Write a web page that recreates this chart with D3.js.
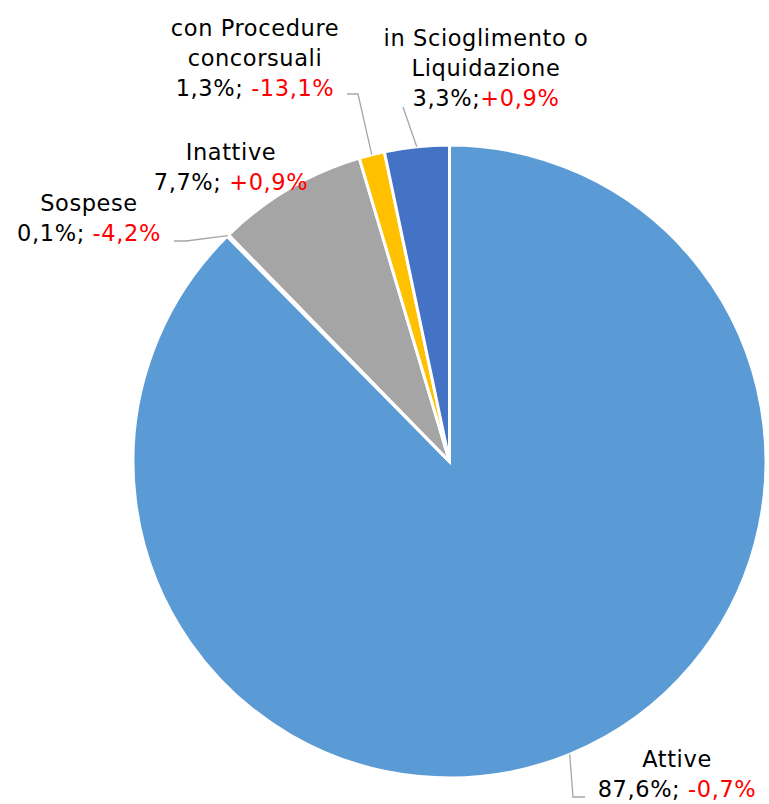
<!DOCTYPE html>
<html>
<head>
<meta charset="utf-8">
<script src="https://cdn.jsdelivr.net/npm/d3@7"></script>
<style>
  html, body { margin: 0; padding: 0; background: #fff; }
  svg { display: block; }
</style>
</head>
<body>
<svg id="chart" width="769" height="804"></svg>
<script>
// ---- Data ----
const categories = ["Attive", "Sospese", "Inattive", "con Procedure concorsuali", "in Scioglimento o Liquidazione"];
const shares = [87.6, 0.1, 7.7, 1.3, 3.3];
const shareLabels = ["87,6%", "0,1%", "7,7%", "1,3%", "3,3%"];
const changeLabels = ["-0,7%", "-4,2%", "+0,9%", "-13,1%", "+0,9%"];
const separators = ["; ", "; ", "; ", "; ", ";"];
const nameLines = [["Attive"], ["Sospese"], ["Inattive"], ["con Procedure", "concorsuali"], ["in Scioglimento o", "Liquidazione"]];
const colors = ["#5B9BD5", "#ED7D31", "#A5A5A5", "#FFC000", "#4472C4"];

// ---- Layout ----
const cx = 449.5, cy = 461.5, R = 316.5;
const fontSize = 22.5, lineH = 30, letterSp = 0.6;
// label: center x, baseline of last line; leader: elbow points from label to slice edge
const labelLayout = [
  { x: 677, y: 797, leader: [[585, 797], [573, 797]] },
  { x: 89, y: 241, leader: [[174, 241], [186, 241]] },
  { x: 231, y: 190, leader: null },
  { x: 255, y: 96, leader: [[347, 94], [358, 94]] },
  { x: 486, y: 106, leader: [[403, 107]] }
];

const svg = d3.select("#chart");
const g = svg.append("g").attr("transform", `translate(${cx},${cy})`);

const pie = d3.pie().sort(null).value(d => d.v).startAngle(0).endAngle(2 * Math.PI);
const data = categories.map((c, i) => ({ c, v: shares[i], i }));
const arcs = pie(data);
const arc = d3.arc().innerRadius(0).outerRadius(R);

g.selectAll("path.slice")
  .data(arcs)
  .join("path")
  .attr("class", "slice")
  .attr("d", arc)
  .attr("fill", d => colors[d.data.i])
  .attr("stroke", "#fff")
  .attr("stroke-width", 3)
  .attr("stroke-linejoin", "miter");

// leader lines
arcs.forEach((a, i) => {
  const L = labelLayout[i];
  if (!L.leader) return;
  const mid = (a.startAngle + a.endAngle) / 2;
  const edge = [cx + R * Math.sin(mid), cy - R * Math.cos(mid)];
  const pts = L.leader.concat([edge]);
  svg.append("path")
    .attr("d", d3.line()(pts))
    .attr("fill", "none")
    .attr("stroke", "#A6A6A6")
    .attr("stroke-width", 1.3);
});

// labels
function textEl(x, y) {
  return svg.append("text")
    .attr("text-anchor", "middle")
    .attr("font-family", "'DejaVu Sans', Verdana, sans-serif")
    .attr("font-size", fontSize)
    .attr("letter-spacing", letterSp)
    .attr("x", x).attr("y", y);
}
arcs.forEach((a, i) => {
  const L = labelLayout[i];
  const lines = nameLines[i];
  const n = lines.length;
  lines.forEach((ln, k) => {
    textEl(L.x, L.y - (n - k) * lineH).attr("fill", "#000").text(ln);
  });
  const last = textEl(L.x, L.y);
  last.append("tspan").attr("fill", "#000").text(shareLabels[i] + separators[i]);
  last.append("tspan").attr("fill", "#FF0000").text(changeLabels[i]);
});
</script>
</body>
</html>
